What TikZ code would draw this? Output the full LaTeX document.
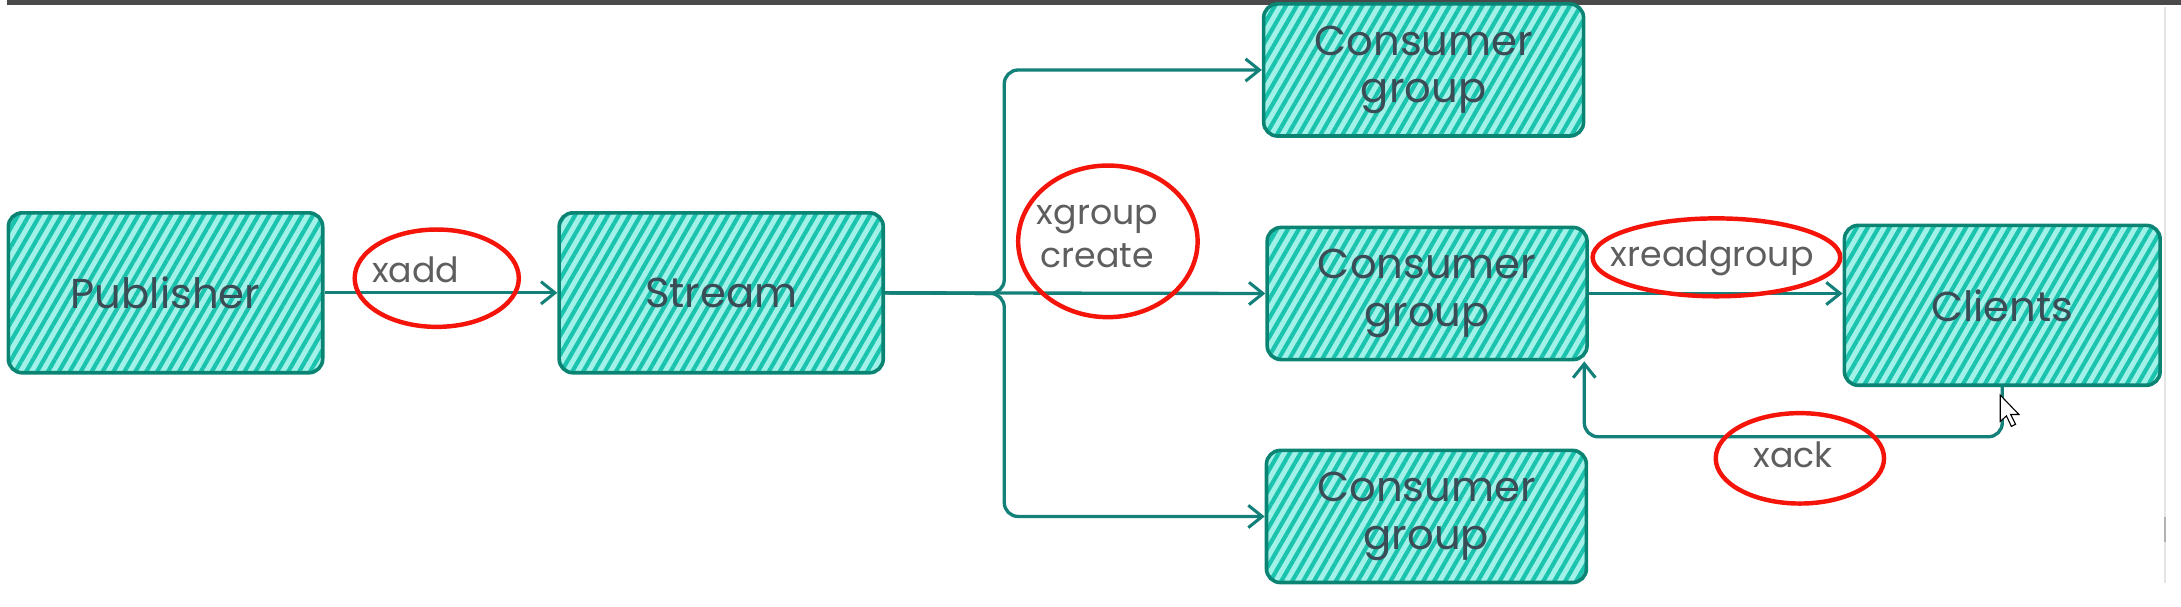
\documentclass[tikz,border=0pt]{standalone}
\usepackage{fontspec}
\setmainfont{Poppins}
\usetikzlibrary{arrows.meta,patterns.meta,shapes.geometric}
\definecolor{boxfill}{HTML}{A2F1E8}
\definecolor{hatch}{HTML}{1AC3AE}
\definecolor{boxline}{HTML}{0B8474}
\definecolor{flowline}{HTML}{14807A}
\definecolor{markred}{HTML}{F5140A}
\definecolor{boxtext}{HTML}{3A4C55}
\definecolor{labeltext}{HTML}{5E5E5E}
\definecolor{topbar}{HTML}{4A4A4A}
\definecolor{scroll}{HTML}{E4E4E4}
\begin{document}
\begin{tikzpicture}[x=0.5pt,y=-0.5pt,
    box/.style={draw=boxline,line width=1.3pt,rounded corners=5pt,preaction={fill=boxfill},
        pattern={Lines[angle=60,distance=3.4pt,line width=1.5pt]},pattern color=hatch,
        text=boxtext,font=\fontsize{15}{17}\selectfont,align=center,inner sep=0pt},
    group/.style={box,minimum width=115pt,minimum height=47.5pt},
    flow/.style={draw=flowline,line width=1.2pt,-{Straight Barb[length=5pt,width=8pt,line width=1.1pt]}},
    lbl/.style={text=labeltext,font=\fontsize{12.5}{15.5}\selectfont,align=center,inner sep=0pt},
    ring/.style={draw=markred,line width=1.6pt,ellipse,inner sep=0pt}]
        \useasboundingbox (0,0) rectangle (1568,435.7);
        \fill [topbar] (5,0) rectangle (1568,3.6);
        \draw [scroll,line width=1pt] (1556.5,5) -- (1556.5,419);
        \draw [gray!60,line width=1pt] (1556.5,372) -- (1556.5,390);

        \node [box,minimum width=113pt,minimum height=57.5pt] (pub) at (119,210.5) {Publisher};
        \node [box,minimum width=116.5pt,minimum height=57.5pt] (stream) at (518.5,210.5) {Stream};
        \node [group] (cgtop) at (1023.5,50.3) {Consumer\\group};
        \node [group] (cgmid) at (1026,211) {Consumer\\group};
        \node [group] (cgbot) at (1025.5,371.3) {Consumer\\group};
        \node [box,minimum width=113.5pt,minimum height=57.5pt] (clients) at (1439.5,219.5) {Clients};

        \coordinate (fork) at (722,211);
        \coordinate (ack) at (1139,314);
        \draw [flow] (pub) -- (stream);
        \draw [flow,rounded corners=5pt] (stream.east) -- (fork) |- (cgtop.west);
        \draw [flow] (stream.east) -- (cgmid.west);
        \draw [flow,rounded corners=5pt] (stream.east) -- (fork) |- (cgbot.west);
        \draw [flow] (cgmid.east) -- (cgmid.east -| clients.west);
        \draw [flow,rounded corners=5pt] (clients.south) |- (ack) -- (ack |- cgmid.south);

        \node [lbl] (xadd) at (299,194) {xadd};
        \node [lbl] (xgroup) at (789,170) {xgroup\\create};
        \node [lbl] (xread) at (1231,186) {xreadgroup};
        \node [lbl] (xack) at (1289,327) {xack};
        \node [ring,minimum width=59pt,minimum height=35pt] (xaddring) at (314,200) {};
        \node [ring,minimum width=64.5pt,minimum height=54.5pt] (xgroupring) at (796.5,173.5) {};
        \node [ring,minimum width=89pt,minimum height=28pt] (xreadring) at (1234,185) {};
        \node [ring,minimum width=60.5pt,minimum height=32.5pt] (xackring) at (1294,329.5) {};

        \filldraw [fill=white,draw=black,line width=0.4pt] (1438,284) -- (1438,303) -- (1442.5,299)
            -- (1446,306.5) -- (1449,305) -- (1445.5,298) -- (1451.5,298) -- cycle;
    \end{tikzpicture}
\end{document}
